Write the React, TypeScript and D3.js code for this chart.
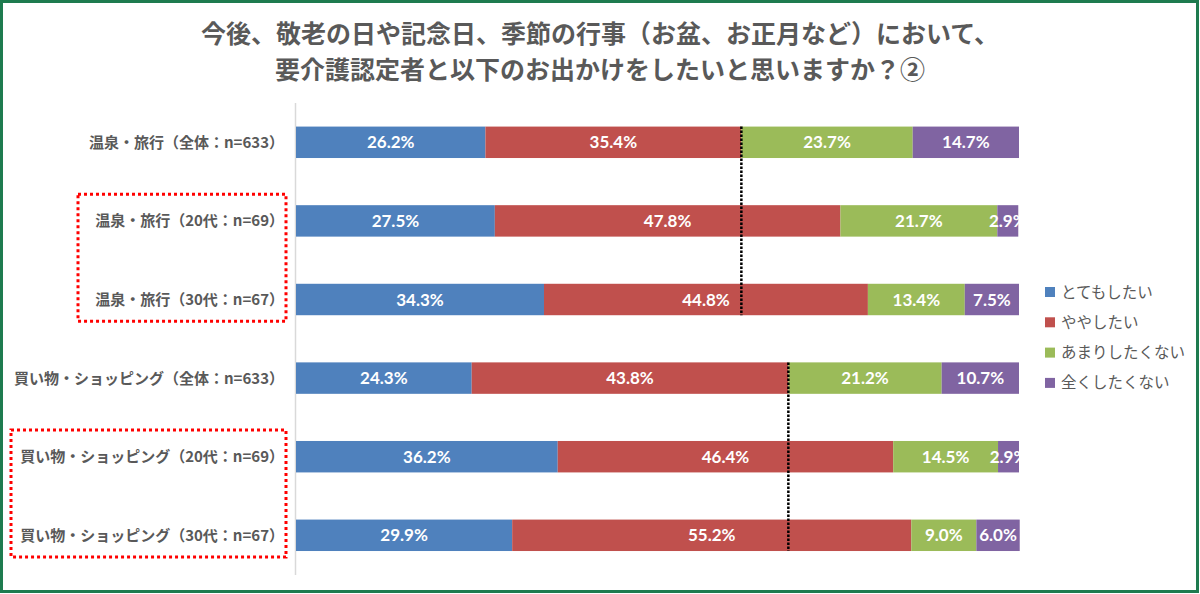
import React from "react";
import * as d3 from "d3";

const categories = [
  "温泉・旅行（全体：n=633）",
  "温泉・旅行（20代：n=69）",
  "温泉・旅行（30代：n=67）",
  "買い物・ショッピング（全体：n=633）",
  "買い物・ショッピング（20代：n=69）",
  "買い物・ショッピング（30代：n=67）",
];
const seriesNames = ["とてもしたい", "ややしたい", "あまりしたくない", "全くしたくない"];
const totemo = [26.2, 27.5, 34.3, 24.3, 36.2, 29.9];
const yaya = [35.4, 47.8, 44.8, 43.8, 46.4, 55.2];
const amari = [23.7, 21.7, 13.4, 21.2, 14.5, 9.0];
const mattaku = [14.7, 2.9, 7.5, 10.7, 2.9, 6.0];
const titleLines = [
  "今後、敬老の日や記念日、季節の行事（お盆、お正月など）において、",
  "要介護認定者と以下のお出かけをしたいと思いますか？②",
];
// groups: [index of 全体 row, last row of group]
const groups = [
  [0, 2],
  [3, 5],
];
const highlightBoxes = [
  [1, 2],
  [4, 5],
];

const colors = ["#4F81BD", "#C0504D", "#9BBB59", "#8064A2"];

const W = 1200;
const H = 594;

export default function App() {
  const series = [totemo, yaya, amari, mattaku];
  const x = d3.scaleLinear().domain([0, 100]).range([296, 1019]);
  const y = d3
    .scaleBand<string>()
    .domain(categories)
    .range([103, 574.6])
    .paddingInner(0.6)
    .paddingOuter(0.3);
  const bw = y.bandwidth();

  const jp = '"Noto Sans CJK JP", "Noto Sans", sans-serif';
  const num = '"Liberation Sans Narrow", "Lato", sans-serif';

  const segs: { cat: string; i: number; s: number; x0: number; x1: number; v: number }[] = [];
  categories.forEach((c, i) => {
    let acc = 0;
    series.forEach((arr, s) => {
      segs.push({ cat: c, i, s, x0: acc, x1: acc + arr[i], v: arr[i] });
      acc += arr[i];
    });
  });

  return (
    <div style={{ position: "absolute", left: 0, top: 0 }}>
      <svg width={W} height={H} viewBox={`0 0 ${W} ${H}`}>
        <rect x={0} y={0} width={W} height={H} fill="#ffffff" />
        <rect x={1.5} y={1.5} width={W - 4} height={H - 4} fill="none" stroke="#1E7B4F" strokeWidth={3} />
        {titleLines.map((t, k) => (
          <text
            key={k}
            x={600}
            y={43 + k * 36}
            textAnchor="middle"
            fontFamily={jp}
            fontWeight={700}
            fontSize={25}
            fill="#595959"
          >
            {t}
          </text>
        ))}
        {/* axis line */}
        <line x1={295.5} x2={295.5} y1={103} y2={575} stroke="#D9D9D9" strokeWidth={1.5} />
        {/* bars */}
        {segs.map((d, k) => (
          <rect
            key={k}
            x={x(d.x0)}
            y={y(d.cat)!}
            width={x(d.x1) - x(d.x0)}
            height={bw}
            fill={colors[d.s]}
          />
        ))}
        {segs.map((d, k) => (
          <text
            key={"t" + k}
            x={(x(d.x0) + x(d.x1)) / 2}
            y={y(d.cat)! + bw / 2}
            dy="0.36em"
            textAnchor="middle"
            fontFamily={num}
            fontWeight={700}
            fontSize={17}
            fill="#ffffff"
          >
            {d.v.toFixed(1)}%
          </text>
        ))}
        {/* dotted reference lines */}
        {groups.map(([a, b], k) => {
          const xv = x(totemo[a] + yaya[a]);
          return (
            <line
              key={"g" + k}
              x1={xv}
              x2={xv}
              y1={y(categories[a])!}
              y2={y(categories[b])! + bw}
              stroke="#000000"
              strokeWidth={2.5}
              strokeDasharray="2.5 1.5"
            />
          );
        })}
        {/* category labels */}
        {categories.map((c) => (
          <text
            key={c}
            x={284}
            y={y(c)! + bw / 2}
            dy="0.36em"
            textAnchor="end"
            fontFamily={jp}
            fontWeight={700}
            fontSize={15}
            fill="#595959"
          >
            {c}
          </text>
        ))}
        {/* highlight boxes */}
        {highlightBoxes.map(([a, b], k) => {
          const x0 = k === 0 ? 78 : 11;
          const top = y(categories[a])! - 11;
          const bot = y(categories[b])! + bw + 6;
          return (
            <rect
              key={"h" + k}
              x={x0}
              y={top}
              width={286 - x0}
              height={bot - top}
              fill="none"
              stroke="#FF0000"
              strokeWidth={3}
              strokeDasharray="3 3"
            />
          );
        })}
        {/* legend */}
        {seriesNames.map((n, k) => (
          <g key={n} transform={`translate(1045, ${292 + k * 30.3})`}>
            <rect x={0} y={-5} width={10} height={10} fill={colors[k]} />
            <text x={16} y={0} dy="0.36em" fontFamily={jp} fontSize={15.5} fill="#595959">
              {n}
            </text>
          </g>
        ))}
      </svg>
    </div>
  );
}
